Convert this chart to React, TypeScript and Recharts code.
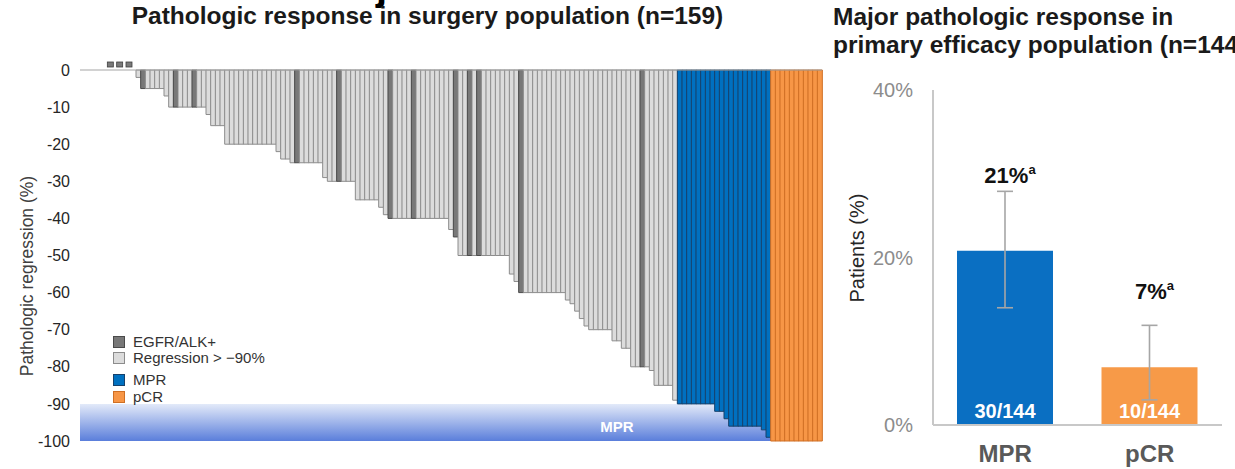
import React from 'react';
import {
  ComposedChart,
  BarChart,
  Bar,
  XAxis,
  YAxis,
  Cell,
  ReferenceArea,
  ReferenceLine,
  Scatter,
  Legend,
  ErrorBar,
  LabelList,
} from 'recharts';

// ---------- Left chart data (surgery population, n=159) ----------
const regression: number[] = [
  0, 0, 0, 0, 0, 0, 0, 0, 0, 0, 0, 0,
  -2,
  -5, -5, -5, -5, -5,
  -7,
  -10, -10, -10, -10, -10, -10, -10, -10,
  -12,
  -15, -15, -15,
  -20, -20, -20, -20, -20, -20, -20, -20, -20, -20, -20,
  -22,
  -24, -24,
  -25, -25, -25, -25, -25, -25, -25,
  -29,
  -30, -30, -30, -30, -30, -30,
  -35, -35, -35, -35, -35,
  -37,
  -39,
  -40, -40, -40, -40, -40, -40, -40, -40, -40, -40, -40, -40, -40,
  -43,
  -45,
  -50, -50, -50, -50, -50, -50, -50, -50, -50, -50, -50,
  -55,
  -57,
  -60, -60, -60, -60, -60, -60, -60, -60, -60, -60,
  -62,
  -63,
  -65,
  -67,
  -69,
  -70, -70, -70, -70, -70,
  -73, -73,
  -75, -75,
  -80, -80, -80, -80,
  -81,
  -85, -85, -85, -85,
  -89,
  -90, -90, -90, -90, -90, -90, -90, -90,
  -92, -92,
  -94,
  -96, -96, -96, -96, -96, -96, -96,
  -97,
  -99,
  -100, -100, -100, -100, -100, -100, -100, -100, -100, -100, -100,
];
const egfrAlkIndices: number[] = [6, 8, 10, 13, 20, 24, 46, 55, 66, 71, 80, 83, 85, 94, 120];
const leftYTicks: number[] = [0, -10, -20, -30, -40, -50, -60, -70, -80, -90, -100];
const legendLabels: string[] = ['EGFR/ALK+', 'Regression > \u221290%', 'MPR', 'pCR'];
const mprThreshold = -90;
const pcrValue = -100;

// ---------- Right chart data (primary efficacy population, n=144) ----------
const responseCategories: string[] = ['MPR', 'pCR'];
const responsePct: number[] = [20.8, 6.9];
const ciLow: number[] = [14.0, 3.0];
const ciHigh: number[] = [27.9, 11.9];
const pctLabels: string[] = ['21%', '7%'];
const countLabels: string[] = ['30/144', '10/144'];
const rightYTicks: number[] = [0, 20, 40];

const FONT = '"Liberation Sans", Arial, Helvetica, sans-serif';

const STYLE: Record<string, { fill: string; stroke: string }> = {
  egfr: { fill: '#787878', stroke: '#4a4a4a' },
  reg: { fill: '#dcdcdc', stroke: '#8c8c8c' },
  mpr: { fill: '#0070c0', stroke: '#17416b' },
  pcr: { fill: '#f79646', stroke: '#cf6f24' },
};

const waterfallData = regression.map((v, i) => {
  const isEgfr = egfrAlkIndices.includes(i);
  const group = v <= pcrValue ? 'pcr' : v <= mprThreshold ? 'mpr' : isEgfr ? 'egfr' : 'reg';
  return {
    id: i + 1,
    value: v,
    group,
    marker: isEgfr && v === 0 ? 0 : null,
  };
});

const responseData = responseCategories.map((name, i) => ({
  name,
  pct: responsePct[i],
  err: [responsePct[i] - ciLow[i], ciHigh[i] - responsePct[i]],
  pctLabel: pctLabels[i],
  countLabel: countLabels[i],
}));

const MarkerShape = (props: any) => {
  const { cx, cy, payload } = props;
  if (!payload || payload.marker === null || payload.marker === undefined || !isFinite(cx) || !isFinite(cy)) {
    return <g />;
  }
  return <rect x={cx - 3} y={cy - 8} width={6} height={5} fill="#7a7a7a" stroke="#3f3f3f" strokeWidth={0.8} />;
};

const LegendContent = () => {
  const keys = ['egfr', 'reg', 'mpr', 'pcr'];
  const tops = [0, 16, 38, 55];
  return (
    <div style={{ position: 'relative', width: 190, height: 72, fontFamily: FONT }}>
      {legendLabels.map((label, i) => (
        <div
          key={label}
          style={{
            position: 'absolute',
            left: 0,
            top: tops[i],
            display: 'flex',
            alignItems: 'center',
            height: 14,
            whiteSpace: 'nowrap',
          }}
        >
          <span
            style={{
              display: 'inline-block',
              width: 10,
              height: 10,
              background: STYLE[keys[i]].fill,
              border: `1px solid ${STYLE[keys[i]].stroke}`,
              marginRight: 8,
            }}
          />
          <span style={{ fontSize: 15, color: '#333', lineHeight: '14px' }}>{label}</span>
        </div>
      ))}
    </div>
  );
};

const LeftYLabel = () => (
  <text
    x={27}
    y={276}
    transform="rotate(-90 27 276)"
    textAnchor="middle"
    dominantBaseline="central"
    fontSize={17.5}
    fill="#404040"
    fontFamily={FONT}
  >
    Pathologic regression (%)
  </text>
);

const RightYLabel = () => (
  <text
    x={17}
    y={248}
    transform="rotate(-90 17 248)"
    textAnchor="middle"
    dominantBaseline="central"
    fontSize={20}
    fill="#262626"
    fontFamily={FONT}
  >
    Patients (%)
  </text>
);

const PctLabel = (props: any) => {
  const { x, y, width, value } = props;
  return (
    <text
      x={Number(x) + Number(width) / 2 + 5}
      y={Number(y) - 68}
      textAnchor="middle"
      fontFamily={FONT}
      fontWeight={700}
      fontSize={22}
      fill="#111"
    >
      {value}
      <tspan fontSize={13} dy={-9}>a</tspan>
    </text>
  );
};

const CountLabel = (props: any) => {
  const { x, y, width, height, value } = props;
  return (
    <text
      x={Number(x) + Number(width) / 2}
      y={Number(y) + Number(height) - 7}
      textAnchor="middle"
      fontFamily={FONT}
      fontWeight={700}
      fontSize={20}
      fill="#ffffff"
    >
      {value}
    </text>
  );
};

export default function App() {
  return (
    <div
      style={{
        position: 'absolute',
        left: 0,
        top: 0,
        width: 1235,
        height: 469,
        overflow: 'hidden',
        background: '#ffffff',
        fontFamily: FONT,
      }}
    >
      {/* fragment of the slide title above, cut by the picture's top edge */}
      <svg style={{ position: 'absolute', left: 0, top: 0 }} width={1235} height={20}>
        <text x={376} y={0} fontFamily={FONT} fontWeight={700} fontSize={40} fill="#000">j</text>
      </svg>

      <div
        style={{
          position: 'absolute',
          left: 0,
          top: 2,
          width: 855,
          textAlign: 'center',
          fontSize: 24.5,
          lineHeight: '28px',
          fontWeight: 700,
          color: '#1a1a1a',
          whiteSpace: 'nowrap',
        }}
      >
        Pathologic response in surgery population (n=159)
      </div>

      <div
        style={{
          position: 'absolute',
          left: 833,
          top: 3,
          fontSize: 24.5,
          lineHeight: '28px',
          fontWeight: 700,
          color: '#1a1a1a',
          whiteSpace: 'nowrap',
        }}
      >
        Major pathologic response in
        <br />
        primary efficacy population (n=144)
      </div>

      <div style={{ position: 'absolute', left: 0, top: 0 }}>
        <ComposedChart
          width={840}
          height={469}
          data={waterfallData}
          margin={{ top: 70, right: 18, bottom: 28, left: 0 }}
          barCategoryGap={0}
          barGap={0}
        >
          <defs>
            <linearGradient id="mprBand" x1="0" y1="0" x2="0" y2="1">
              <stop offset="0%" stopColor="#e3eaf9" />
              <stop offset="100%" stopColor="#5a7edb" />
            </linearGradient>
          </defs>
          <ReferenceArea
            y1={-100}
            y2={-90}
            fill="url(#mprBand)"
            fillOpacity={1}
            stroke="none"
            label={{ value: 'MPR', position: 'center', dx: 166, dy: 4, fill: '#ffffff', fontSize: 15, fontWeight: 700, fontFamily: FONT }}
          />
          <XAxis dataKey="id" type="category" hide />
          <YAxis
            domain={[-100, 0]}
            ticks={leftYTicks}
            width={80}
            axisLine={false}
            tickLine={false}
            tickMargin={4}
            tick={{ fontSize: 16, fill: '#262626', fontFamily: FONT }}
            label={<LeftYLabel />}
          />
          <Bar dataKey="value" isAnimationActive={false} strokeWidth={1}>
            {waterfallData.map((d) => (
              <Cell key={d.id} fill={STYLE[d.group].fill} stroke={STYLE[d.group].stroke} />
            ))}
          </Bar>
          <ReferenceLine y={0} stroke="#a6a6a6" strokeWidth={1.2} />
          <Scatter dataKey="marker" isAnimationActive={false} shape={MarkerShape} legendType="none" />
          <Legend
            layout="vertical"
            align="center"
            verticalAlign="middle"
            content={<LegendContent />}
            wrapperStyle={{ left: 113, top: 335, width: 190, height: 72 }}
          />
        </ComposedChart>
      </div>

      <div style={{ position: 'absolute', left: 840, top: 0 }}>
        <BarChart
          width={395}
          height={469}
          data={responseData}
          margin={{ top: 90, right: 13, bottom: 0, left: 0 }}
        >
          <XAxis
            dataKey="name"
            height={44}
            axisLine={{ stroke: '#c8c8c8', strokeWidth: 2 }}
            tickLine={false}
            tickSize={0}
            tickMargin={20}
            tick={{ fontSize: 24, fontWeight: 700, fill: '#595959', fontFamily: FONT }}
          />
          <YAxis
            domain={[0, 40]}
            ticks={rightYTicks}
            tickFormatter={(v: number) => `${v}%`}
            width={93}
            axisLine={{ stroke: '#c8c8c8', strokeWidth: 2 }}
            tickLine={false}
            tickSize={0}
            tickMargin={20}
            tick={{ fontSize: 20, fill: '#8c8c8c', fontFamily: FONT }}
            label={<RightYLabel />}
          />
          <Bar dataKey="pct" barSize={96} isAnimationActive={false}>
            {responseData.map((d, i) => (
              <Cell key={d.name} fill={i === 0 ? '#0a6fc2' : '#f79a48'} />
            ))}
            <ErrorBar dataKey="err" width={8} stroke="#a6a6a6" strokeWidth={1.6} />
            <LabelList dataKey="pctLabel" content={<PctLabel />} />
            <LabelList dataKey="countLabel" content={<CountLabel />} />
          </Bar>
        </BarChart>
      </div>
    </div>
  );
}
